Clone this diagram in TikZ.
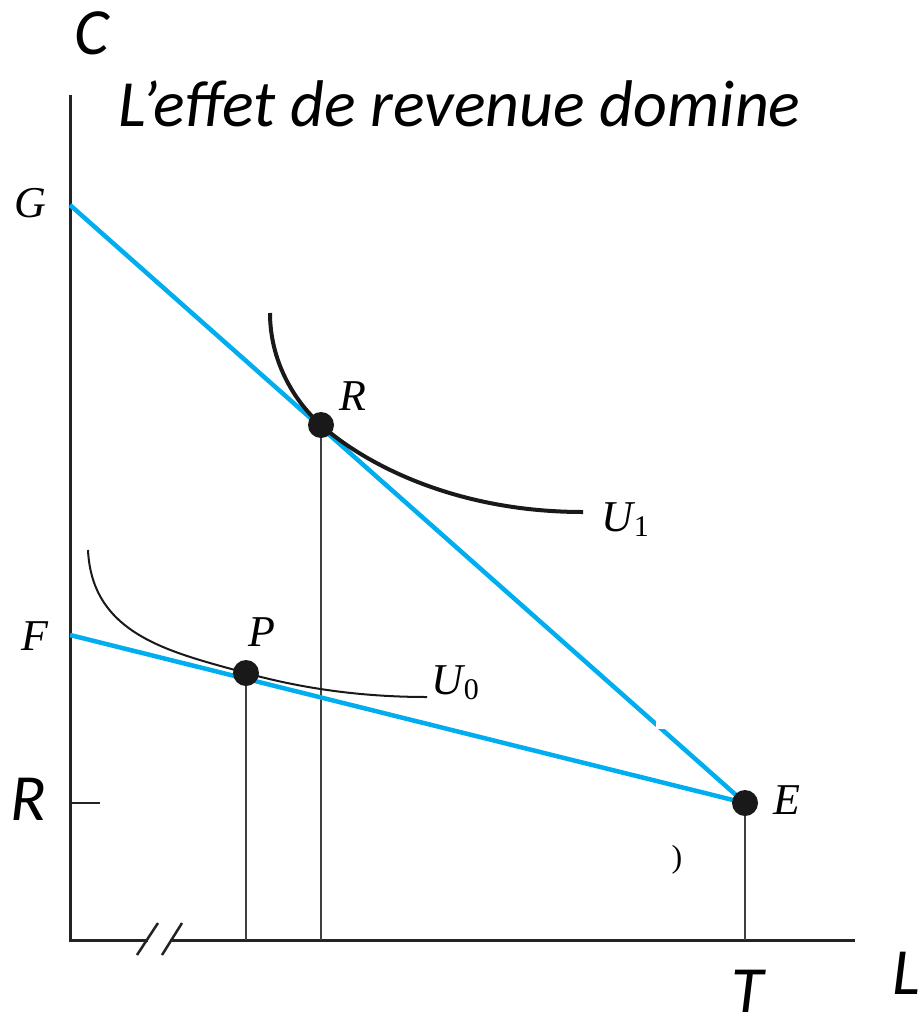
\documentclass[tikz,border=0pt]{standalone}
\usepackage{fontspec}
\setmainfont{Liberation Serif}
\newfontfamily\calfont{Carlito}
\definecolor{budget}{RGB}{0,174,239}
\definecolor{axisgray}{RGB}{35,35,35}
\begin{document}
\begin{tikzpicture}[x=1pt,y=-1pt,
  axis/.style={line width=3pt,draw=axisgray},
  guide/.style={line width=1.6pt,draw=black!75},
  budgetline/.style={line width=4.5pt,draw=budget},
  dot/.style={circle,fill=black!90,inner sep=0pt,minimum size=26pt},
  serlab/.style={font=\fontsize{44}{48}\selectfont\itshape,inner sep=0pt},
  biglab/.style={font=\fontsize{66}{72}\selectfont\calfont\itshape,inner sep=0pt},
  indiff/.style={draw=black!90}]
\useasboundingbox (0,0) rectangle (920,1022);
% key points
\coordinate (O) at (70,940);
\coordinate (Ytop) at (70,95);
\coordinate (Xend) at (855,940);
\coordinate (Bk1) at (148,940);
\coordinate (Bk2) at (170,940);
\coordinate (Gp) at (70,205);
\coordinate (Fp) at (70,635);
\coordinate (Rt) at (70,803);
\coordinate (RtEnd) at (100,803);
\coordinate (Ept) at (745,803);
\coordinate (Rpt) at (321,425);
\coordinate (Ppt) at (246,673);
\coordinate (Ebase) at (745,940);
\coordinate (Rbase) at (321,940);
\coordinate (Pbase) at (246,940);
% axes
\draw[axis] (Ytop) -- (O) -- (Bk1);
\draw[axis] (Bk2) -- (Xend);
\draw[axis,line width=2.5pt] (137,955) -- (158,923);
\draw[axis,line width=2.5pt] (162,955) -- (182,923);
\draw[axis,line width=2pt] (Rt) -- (RtEnd);
% guides
\draw[guide] (Ept) -- (Ebase);
\draw[guide] (Rpt) -- (Rbase);
\draw[guide] (Ppt) -- (Pbase);
% budget lines
\draw[budgetline] (Gp) -- (Ept);
\draw[budgetline] (Fp) -- (Ept);
\fill[white] (656,717) rectangle (667,729);
% indifference curves
\draw[indiff,line width=4pt] (270,313) .. controls (270,360) and (293,400) .. (Rpt)
  .. controls (360,460) and (450,512) .. (583,512);
\draw[indiff,line width=2pt] (88,550) .. controls (92,635) and (170,652) .. (Ppt)
  .. controls (300,688) and (360,697) .. (427,697);
% dots
\node[dot] (E) at (Ept) {};
\node[dot] (R) at (Rpt) {};
\node[dot] (P) at (Ppt) {};
% serif labels
\node[serlab] (Glab) at (30,203) {G};
\node[serlab] (Flab) at (35,636) {F};
\node[serlab] (Plab) at (262,632) {P};
\node[serlab] (Rlab) at (353,396) {R};
\node[serlab] (Elab) at (787,800) {E};
\node[serlab,anchor=base west] (U1) at (601,531) {U\kern1pt\raisebox{-5pt}{\upshape\fontsize{30}{32}\selectfont 1}};
\node[serlab,anchor=base west] (U0) at (431,694) {U\kern1pt\raisebox{-5pt}{\upshape\fontsize{30}{32}\selectfont 0}};
\node[font=\fontsize{32}{34}\selectfont,inner sep=0pt] (paren) at (677,860) {)};
% big labels
\node[biglab,anchor=base west] (Clab) at (74,55) {C};
\node[biglab,anchor=base west] (title) at (118,127) {L’effet de revenue domine};
\node[biglab,anchor=base west] (Rax) at (10,820) {R};
\node[biglab,anchor=base] (Tlab) at (748,1012) {T};
\node[biglab,anchor=base west] (Llab) at (892,994) {L};
\end{tikzpicture}
\end{document}
